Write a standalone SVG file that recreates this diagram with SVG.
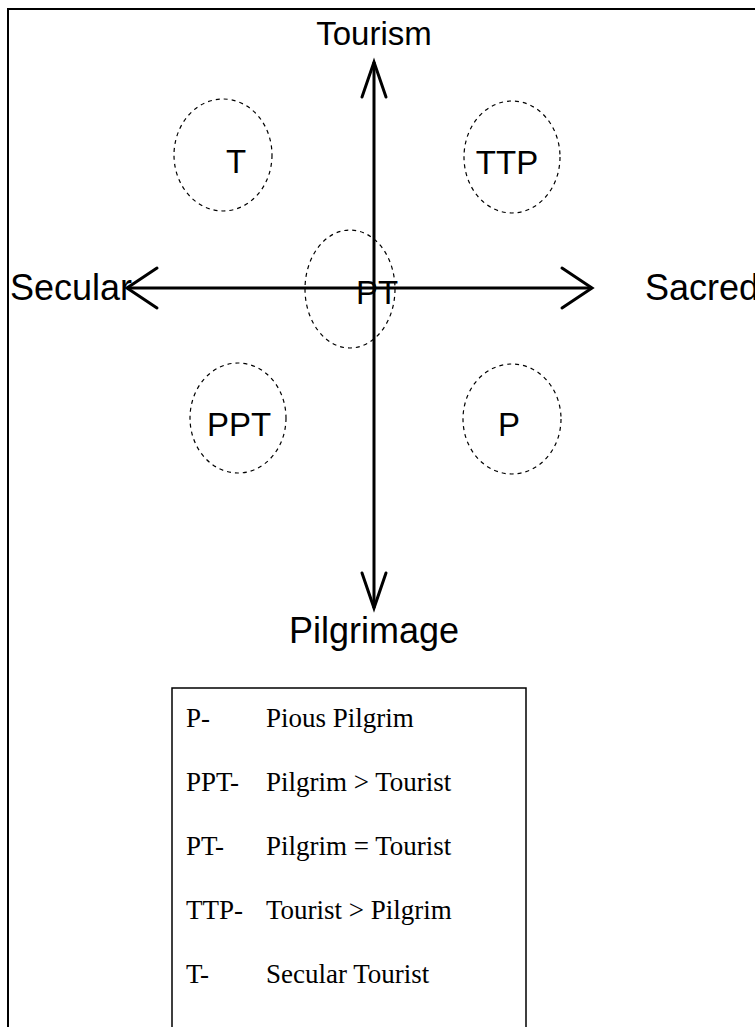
<svg xmlns="http://www.w3.org/2000/svg" width="755" height="1027" viewBox="0 0 755 1027">
<style>
.lbl{font-family:"Liberation Sans",Arial,sans-serif;font-size:33px;fill:#000}
.ax{font-family:"Liberation Sans",Arial,sans-serif;font-size:36px;fill:#000}
.lg{font-family:"Liberation Serif","Times New Roman",serif;font-size:27px;fill:#000}
.ell{fill:none;stroke:#000;stroke-width:1.2;stroke-dasharray:4,4}
.axis{fill:none;stroke:#000;stroke-width:3}
.head{fill:none;stroke:#000;stroke-width:3;stroke-linecap:round;stroke-linejoin:miter}
</style>
<rect x="0" y="0" width="755" height="1027" fill="#fff"/>
<path d="M8,1027 V9 H755" fill="none" stroke="#000" stroke-width="2"/>
<g id="connectors">
<line class="axis" x1="374" y1="62" x2="374" y2="608"/>
<line class="axis" x1="127" y1="288" x2="592" y2="288"/>
<polyline class="head" points="362,97 374,62 386,97"/>
<polyline class="head" points="362,573 374,608 386,573"/>
<polyline class="head" points="157,268 127,288 157,308"/>
<polyline class="head" points="562,268 592,288 562,308"/>
</g>
<g id="axis-labels">
<text class="ax" x="374" y="45" text-anchor="middle" style="font-size:33px">Tourism</text>
<text class="ax" x="374" y="643" text-anchor="middle">Pilgrimage</text>
<text class="ax" x="10" y="300">Secular</text>
<text class="ax" x="645" y="300">Sacred</text>
</g>
<g id="node-T">
<ellipse class="ell" cx="223" cy="155" rx="49" ry="56"/>
<text class="lbl" x="236" y="173" text-anchor="middle">T</text>
</g>
<g id="node-TTP">
<ellipse class="ell" cx="512" cy="157" rx="48" ry="56"/>
<text class="lbl" x="507" y="174" text-anchor="middle">TTP</text>
</g>
<g id="node-PT">
<ellipse class="ell" cx="350" cy="289" rx="45" ry="59"/>
<text class="lbl" x="377" y="304" text-anchor="middle">PT</text>
</g>
<g id="node-PPT">
<ellipse class="ell" cx="238" cy="418" rx="48" ry="55"/>
<text class="lbl" x="239" y="436" text-anchor="middle">PPT</text>
</g>
<g id="node-P">
<ellipse class="ell" cx="512" cy="419" rx="49" ry="55"/>
<text class="lbl" x="509" y="436" text-anchor="middle">P</text>
</g>
<g id="legend">
<path d="M172,1027 V688 H526 V1027" fill="none" stroke="#000" stroke-width="1.5"/>
<text class="lg" x="186" y="727">P-</text>
<text class="lg" x="266" y="727">Pious Pilgrim</text>
<text class="lg" x="186" y="791">PPT-</text>
<text class="lg" x="266" y="791">Pilgrim &gt; Tourist</text>
<text class="lg" x="186" y="855">PT-</text>
<text class="lg" x="266" y="855">Pilgrim = Tourist</text>
<text class="lg" x="186" y="919">TTP-</text>
<text class="lg" x="266" y="919">Tourist &gt; Pilgrim</text>
<text class="lg" x="186" y="983">T-</text>
<text class="lg" x="266" y="983">Secular Tourist</text>
</g>
</svg>
